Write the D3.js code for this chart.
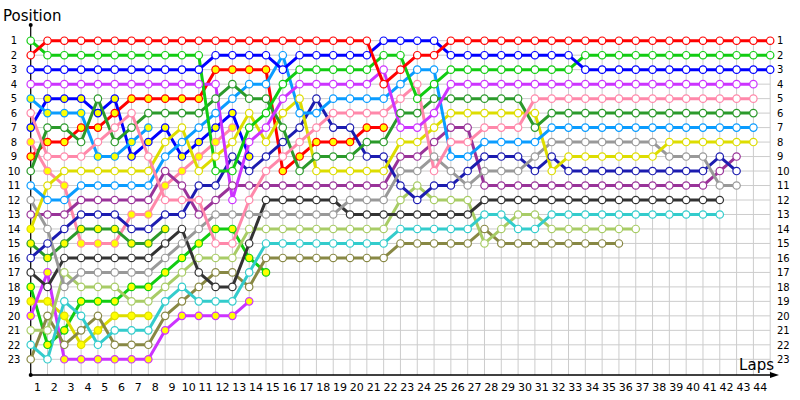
<!DOCTYPE html>
<html>
<head>
<meta charset="utf-8">
<script src="https://cdn.jsdelivr.net/npm/d3@7"></script>
<style>
body { margin: 0; background: #fff; }
text { font-family: "DejaVu Sans", sans-serif; fill: #000; }
</style>
</head>
<body>
<div id="chart"></div>
<script>
// lap chart - position of every car on every lap
const lapTicks = d3.range(1, 45);   // labels under the axis
const posTicks = d3.range(1, 24);   // 1..23
const lastLap = 45;

// positions per lap, starting at lap 1 (shorter arrays = retired)
const red        = [2,1,1,1,1,1,1,1,1,1, 1,1,1,1,1,1,1,1,1,1, 1,4,3,2,2,1,1,1,1,1, 1,1,1,1,1,1,1,1,1,1, 1,1,1,1,1];
const blue       = [3,3,3,3,3,3,3,3,3,3, 3,2,2,2,2,3,2,2,2,2, 2,1,1,1,1,2,2,2,2,2, 2,2,2,3,3,3,3,3,3,3, 3,3,3,3,3];
const green      = [1,2,2,2,2,2,2,2,2,2, 2,10,10,7,6,4,3,3,3,3, 3,2,2,5,4,3,3,3,3,3, 3,3,3,2,2,2,2,2,2,2, 2,2,2,2,2];
const violet     = [4,4,4,4,4,4,4,4,4,4, 4,4,12,8,7,5,4,4,4,4, 4,3,7,7,6,4,4,4,4,4, 4,4,4,4,4,4,4,4,4,4, 4,4,4,4];
const pink       = [6,9,9,9,8,7,6,9,12,12, 12,15,15,12,10,9,8,7,6,6, 6,6,5,4,10,8,8,7,7,7, 5,5,5,5,5,5,5,5,5,5, 5,5,5,5];
const darkGreen  = [10,7,7,8,5,8,7,6,6,6, 6,5,4,5,5,7,10,9,9,9, 8,8,6,6,5,5,5,5,5,5, 7,6,6,6,6,6,6,6,6,6, 6,6,6,6];
const lightBlue  = [11,12,12,11,11,11,11,11,9,8, 7,6,5,4,4,2,6,6,5,5, 5,5,4,3,3,9,9,8,8,8, 8,7,7,7,7,7,7,7,7,7, 7,7,7,7];
const yellow     = [14,11,10,10,10,10,10,10,8,7, 10,9,8,6,8,6,5,10,10,10, 10,10,8,8,7,6,6,6,6,6, 6,10,9,9,9,9,9,9,8,8, 8,8,8,8];
const gray       = [12,14,18,17,17,17,17,17,16,15, 14,13,13,13,13,13,13,13,13,12, 12,12,10,10,9,10,11,10,10,10, 9,8,8,8,8,8,8,8,9,9, 9,11,11];
const navy       = [16,15,14,13,13,13,14,14,13,13, 11,11,9,10,9,8,7,5,7,7, 9,9,11,12,11,11,10,9,9,9, 10,9,10,10,10,10,10,10,10,10, 10,9,10];
const purple     = [13,13,13,12,12,12,12,12,10,11, 13,12,11,11,11,11,11,11,11,11, 11,11,9,9,8,7,7,11,11,11, 11,11,11,11,11,11,11,11,11,11, 11,10,9];
const darkGray   = [17,18,16,16,16,16,16,16,15,14, 17,18,18,15,12,12,12,12,12,13, 13,13,13,13,13,13,13,12,12,12, 12,12,12,12,12,12,12,12,12,12, 12,12];
const cyan       = [22,23,19,20,22,21,21,21,19,18, 19,19,19,17,15,15,15,15,15,15, 15,15,14,14,14,14,14,13,13,14, 14,13,13,13,13,13,13,13,13,13, 13,13];
const lightGreen = [21,21,17,18,18,18,19,19,18,17, 16,16,16,14,14,14,14,14,14,14, 14,14,12,11,12,12,12,15,14,13, 13,14,14,14,14,14,14];
const olive      = [23,20,22,21,20,22,22,22,20,19, 18,17,17,18,16,16,16,16,16,16, 16,16,15,15,15,15,15,14,15,15, 15,15,15,15,15,15];
const redB       = [9,8,8,7,7,6,5,5,5,5, 5,3,3,3,3,10,9,8,8,8, 7,7];
const greenB     = [18,22,21,19,19,19,18,18,17,16, 15,14,14,16,17];
const blueB      = [7,5,5,5,6,5,9,8,7,9, 8,7,6,9];
const lightBlueB = [5,6,6,6,9,9,8,7];
const pinkB      = [8,10,11,15,15,15,13,13,11,10, 9,8,7];
const darkGreenB = [15,16,15,14,14,14,15,15,14];
const yellowB    = [19,19,20,22,21,20,20,20];
const violetB    = [20,17,23,23,23,23,23,23,21,20, 20,20,20,19];

// laps drawn with a filled marker for cars that are otherwise open
const yellowFilledLaps = [1];

const cars = [
  {pos: redB,       color: "#ff0000", second: true},
  {pos: greenB,     color: "#11cc11", second: true},
  {pos: blueB,      color: "#0000ff", second: true},
  {pos: lightBlueB, color: "#0a9cff", second: true},
  {pos: pinkB,      color: "#ff88aa", second: true},
  {pos: darkGreenB, color: "#2b9a2b", second: true},
  {pos: yellowB,    color: "#dddd00", second: true},
  {pos: violetB,    color: "#cc33ff", second: true},
  {pos: olive,      color: "#888844"},
  {pos: lightGreen, color: "#a8cc66"},
  {pos: cyan,       color: "#33cccc"},
  {pos: darkGray,   color: "#333333"},
  {pos: purple,     color: "#993399"},
  {pos: navy,       color: "#1c1cb0"},
  {pos: gray,       color: "#999999"},
  {pos: yellow,     color: "#dddd00", filled: yellowFilledLaps},
  {pos: lightBlue,  color: "#0a9cff"},
  {pos: darkGreen,  color: "#2b9a2b"},
  {pos: pink,       color: "#ff88aa"},
  {pos: violet,     color: "#cc33ff"},
  {pos: green,      color: "#11cc11"},
  {pos: blue,       color: "#0000ff"},
  {pos: red,        color: "#ff0000"}
];

const width = 800, height = 400;
const axisY = 375;

const svg = d3.select("#chart").append("svg")
    .attr("width", width)
    .attr("height", height);

let x = d3.scaleLinear().domain([1, lastLap]).range([30.7, 770.2]);
let y = d3.scaleLinear().domain([1, 23]).range([40.7, 359.3]);

// grid
let grid = svg.append("g").attr("stroke", "#cccccc").attr("stroke-width", 1);
grid.selectAll("line.v")
    .data(d3.range(1, lastLap + 1))
    .join("line")
    .attr("x1", d => x(d)).attr("x2", d => x(d))
    .attr("y1", y(1)).attr("y2", axisY);
grid.selectAll("line.h")
    .data(posTicks)
    .join("line")
    .attr("x1", x(1)).attr("x2", x(lastLap))
    .attr("y1", d => y(d)).attr("y2", d => y(d));

// axis lines
svg.append("line")
    .attr("x1", x(1)).attr("x2", x(1))
    .attr("y1", 25).attr("y2", axisY)
    .attr("stroke", "#000").attr("stroke-width", 1.2);
svg.append("line")
    .attr("x1", x(1)).attr("x2", 772)
    .attr("y1", axisY).attr("y2", axisY)
    .attr("stroke", "#000").attr("stroke-width", 1.6);
svg.append("path")
    .attr("d", `M770,${axisY - 3}L779,${axisY}L770,${axisY + 3}Z`)
    .attr("fill", "#000");
svg.append("circle").attr("cx", x(1)).attr("cy", 25).attr("r", 2).attr("fill", "#000");
svg.append("circle").attr("cx", x(1)).attr("cy", axisY).attr("r", 2).attr("fill", "#000");

// tick labels
let bottom = svg.append("g")
    .attr("transform", `translate(0,${axisY})`)
    .call(d3.axisBottom(x).tickValues(lapTicks).tickSize(0).tickFormat(d3.format("d")));
bottom.select(".domain").remove();
bottom.selectAll("text")
    .attr("x", 6.3).attr("y", 8.5)
    .style("font-size", "11px").style("font-family", "DejaVu Sans");

let left = svg.append("g")
    .call(d3.axisLeft(y).tickValues(posTicks).tickSize(0).tickFormat(d3.format("d")));
left.select(".domain").remove();
left.selectAll("text")
    .attr("x", 14).style("text-anchor", "middle")
    .style("font-size", "10px").style("font-family", "DejaVu Sans");

let right = svg.append("g")
    .attr("transform", "translate(777,0)")
    .call(d3.axisRight(y).tickValues(posTicks).tickSize(0).tickFormat(d3.format("d")));
right.select(".domain").remove();
right.selectAll("text")
    .attr("x", 0)
    .style("font-size", "10px").style("font-family", "DejaVu Sans");

// titles
svg.append("text")
    .attr("x", 3).attr("y", 21)
    .style("font-size", "15px")
    .text("Position");
svg.append("text")
    .attr("x", 774).attr("y", 370)
    .style("text-anchor", "end")
    .style("font-size", "15px")
    .text("Laps");

// lines
let line = d3.line()
    .x((d, i) => x(i + 1))
    .y(d => y(d));

svg.append("g").selectAll("path")
    .data(cars)
    .join("path")
    .attr("d", d => line(d.pos))
    .attr("fill", "none")
    .attr("stroke", d => d.color)
    .attr("stroke-width", 3)
    .attr("stroke-linejoin", "round");

// markers
let marks = svg.append("g").selectAll("g")
    .data(cars)
    .join("g");
marks.selectAll("circle")
    .data(d => d.pos.map((p, i) => ({
        lap: i + 1, p: p, color: d.color,
        yellow: d.second || (d.filled || []).includes(i + 1)
    })))
    .join("circle")
    .attr("cx", d => x(d.lap))
    .attr("cy", d => y(d.p))
    .attr("r", 3.7)
    .attr("fill", d => d.yellow ? "#ffff00" : "#ffffff")
    .attr("stroke", d => d.color)
    .attr("stroke-width", 1.2);
</script>
</body>
</html>
